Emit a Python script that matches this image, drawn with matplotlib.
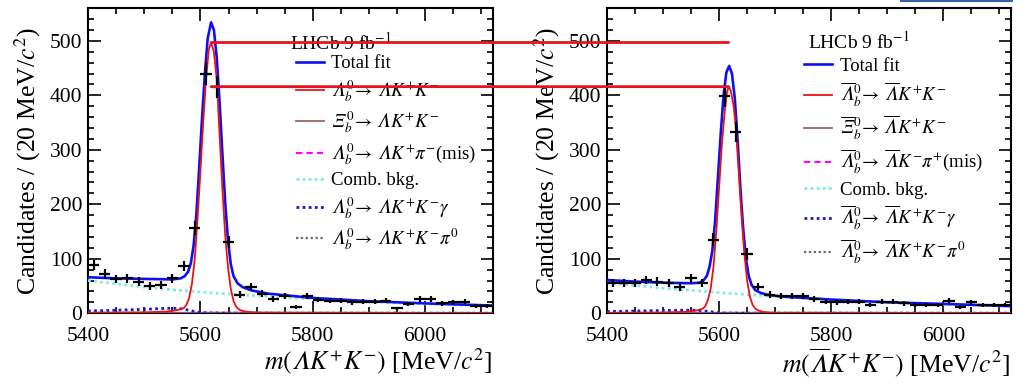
import numpy as np
import matplotlib.pyplot as plt
from matplotlib.patches import ConnectionPatch
from matplotlib.lines import Line2D
from matplotlib.ticker import MultipleLocator

plt.rcParams['font.family'] = 'serif'
plt.rcParams['font.serif'] = ['Liberation Serif', 'DejaVu Serif']
plt.rcParams['mathtext.fontset'] = 'stix'

# ---- data (bin centres, 20 MeV bins) ----
bin_centres = [5410, 5430, 5450, 5470, 5490, 5510, 5530, 5550, 5570, 5590,
               5610, 5630, 5650, 5670, 5690, 5710, 5730, 5750, 5770, 5790,
               5810, 5830, 5850, 5870, 5890, 5910, 5930, 5950, 5970, 5990,
               6010, 6030, 6050, 6070, 6090, 6110]
counts_lb = [89, 72, 63, 64, 58, 50, 52, 64, 86, 156,
             440, 416, 131, 34, 49, 36, 26, 31, 12, 31,
             25, 23, 23, 20, 21, 21, 23, 9, 17, 26,
             26, 18, 20, 21, 13, 13]
counts_lbbar = [55, 56, 56, 61, 58, 55, 48, 64, 55, 135,
                399, 333, 109, 49, 34, 32, 32, 31, 26, 21,
                20, 21, 21, 15, 21, 21, 18, 15, 15, 15,
                23, 11, 20, 15, 15, 15]

# ---- fit curves ----
tot_mass_lb = [5400, 5450, 5500, 5550, 5565, 5572, 5578, 5583, 5588, 5593,
               5598, 5603, 5608, 5613, 5619, 5624, 5629, 5634, 5639, 5644,
               5649, 5654, 5659, 5666, 5675, 5690, 5720, 5800, 5900, 6000, 6120]
tot_lb = [66, 64, 63, 62, 64, 68, 76, 92, 125, 185,
          270, 360, 440, 505, 534, 520, 470, 390, 295, 205,
          135, 90, 68, 55, 48, 42, 36, 28, 22, 18, 14]
sig_mass_lb = [5400, 5500, 5540, 5560, 5570, 5575, 5580, 5585, 5590, 5595,
               5600, 5605, 5610, 5615, 5619, 5624, 5629, 5634, 5639, 5644,
               5649, 5654, 5659, 5664, 5670, 5680, 5700, 5800, 6120]
sig_lb = [0.5, 1.5, 3, 6, 9, 15, 28, 55, 100, 175,
          260, 350, 430, 485, 497, 480, 430, 330, 230, 145,
          85, 45, 22, 11, 6, 3, 1, 0.3, 0]

tot_mass_lbbar = [5400, 5450, 5500, 5550, 5565, 5572, 5578, 5583, 5588, 5593,
                  5598, 5603, 5608, 5613, 5618, 5623, 5628, 5633, 5638, 5643,
                  5648, 5653, 5658, 5665, 5675, 5690, 5720, 5800, 5900, 6000, 6120]
tot_lbbar = [61, 58, 56, 55, 56, 60, 68, 85, 115, 170,
             250, 330, 400, 442, 454, 440, 395, 320, 230, 155,
             100, 68, 52, 42, 37, 33, 30, 25, 20, 17, 13]
sig_mass_lbbar = [5400, 5500, 5540, 5560, 5570, 5575, 5580, 5585, 5590, 5595,
                  5600, 5605, 5610, 5614, 5617, 5621, 5626, 5630, 5635, 5640,
                  5645, 5650, 5655, 5660, 5665, 5670, 5680, 5700, 5800, 6120]
sig_lbbar = [0.4, 1.2, 2.5, 5, 8, 12, 24, 45, 85, 150,
             230, 310, 370, 405, 416, 408, 380, 340, 260, 180,
             110, 60, 30, 15, 8, 5, 2, 0.5, 0, 0]

bkg_mass = [5400, 5450, 5500, 5550, 5600, 5650, 5700, 5750, 5800, 5850,
            5900, 5950, 6000, 6050, 6120]
comb_lb = [60, 54, 48, 43, 39, 35, 32, 29, 26, 23.5, 21, 19, 17, 15.5, 14]
comb_lbbar = [56, 51, 46, 42, 38, 34, 31, 28, 25, 22.5, 20, 18, 16.5, 15, 13]
xib_lb = [0.6, 0.6, 0.6, 0.6, 0.7, 0.8, 0.9, 1.0, 1.0, 0.9, 0.8, 0.7, 0.6, 0.6, 0.5]
xib_lbbar = [0.5, 0.5, 0.5, 0.5, 0.6, 0.7, 0.8, 0.9, 0.9, 0.8, 0.7, 0.6, 0.5, 0.5, 0.4]
mis_lb = [0.3, 0.3, 0.3, 0.3, 0.4, 0.5, 0.5, 0.4, 0.3, 0.3, 0.3, 0.2, 0.2, 0.2, 0.2]
mis_lbbar = [0.3, 0.3, 0.3, 0.3, 0.4, 0.5, 0.5, 0.4, 0.3, 0.3, 0.3, 0.2, 0.2, 0.2, 0.2]

gam_mass = [5400, 5450, 5500, 5540, 5560, 5575, 5590, 5600, 5650, 6120]
gam_lb = [4, 5.5, 7, 9, 9, 6.5, 3, 1, 0, 0]
gam_lbbar = [3, 4, 5, 5.5, 5.5, 4, 2, 0.5, 0, 0]
pi0_mass = [5400, 5450, 5500, 5550, 5600, 6120]
pi0_lb = [1.0, 0.8, 0.5, 0.2, 0, 0]
pi0_lbbar = [0.8, 0.6, 0.4, 0.2, 0, 0]

# italic capital Greek (mathematical italic code points)
L = "\U0001D6EC"
X = "\U0001D6EF"
labels_lb = ["Total fit",
             rf"${L}_b^0\!\rightarrow\,{L} K^{{+}}K^{{-}}$",
             rf"${X}_b^0\!\rightarrow\,{L} K^{{+}}K^{{-}}$",
             rf"${L}_b^0\!\rightarrow\,{L} K^{{+}}\pi^{{-}}$(mis)",
             "Comb. bkg.",
             rf"${L}_b^0\!\rightarrow\,{L} K^{{+}}K^{{-}}\gamma$",
             rf"${L}_b^0\!\rightarrow\,{L} K^{{+}}K^{{-}}\pi^{{0}}$"]
labels_lbbar = ["Total fit",
                rf"$\overline{{{L}}}_b^0\!\rightarrow\,\overline{{{L}}} K^{{+}}K^{{-}}$",
                rf"$\overline{{{X}}}_b^0\!\rightarrow\,\overline{{{L}}} K^{{+}}K^{{-}}$",
                rf"$\overline{{{L}}}_b^0\!\rightarrow\,\overline{{{L}}} K^{{-}}\pi^{{+}}$(mis)",
                "Comb. bkg.",
                rf"$\overline{{{L}}}_b^0\!\rightarrow\,\overline{{{L}}} K^{{+}}K^{{-}}\gamma$",
                rf"$\overline{{{L}}}_b^0\!\rightarrow\,\overline{{{L}}} K^{{+}}K^{{-}}\pi^{{0}}$"]
xlabel_lb = rf"$m({L} K^{{+}}K^{{-}})$ [MeV/$c^2$]"
xlabel_lbbar = rf"$m(\overline{{{L}}} K^{{+}}K^{{-}})$ [MeV/$c^2$]"
lumi_text = r"LHCb 9 fb$^{-1}$"


def draw_panel(ax, counts, tot_m, tot, sig_m, sig, comb, xib, mis, gam, pi0,
               labels, xlabel, leg_x, leg_y, lumi_x, lumi_y, lspace):
    c = np.array(counts, dtype=float)
    ax.errorbar(bin_centres, c, xerr=10, yerr=np.sqrt(c), fmt='none',
                ecolor='black', elinewidth=1.6, capsize=0, zorder=5)
    h_tot, = ax.plot(tot_m, tot, color='#1010ee', lw=1.9, zorder=4)
    h_sig, = ax.plot(sig_m, sig, color='#ee1111', lw=1.3, zorder=4)
    h_xib, = ax.plot(bkg_mass, xib, color='#996666', lw=1.3, zorder=3)
    h_mis, = ax.plot(bkg_mass, mis, color='#ff00ff', lw=1.5, ls=(0, (3, 2)), zorder=3)
    h_comb, = ax.plot(bkg_mass, comb, color='#80e8e8', lw=2.0, ls=(0, (1, 1.2)), zorder=3)
    h_gam, = ax.plot(gam_mass, gam, color='#1a1acc', lw=2.0, ls=(0, (1, 1.2)), zorder=3)
    h_pi0, = ax.plot(pi0_mass, pi0, color='#666677', lw=1.6, ls=(0, (1, 1.2)), zorder=3)

    ax.set_xlim(5400, 6120)
    ax.set_ylim(0, 560)
    ax.xaxis.set_major_locator(MultipleLocator(200))
    ax.xaxis.set_minor_locator(MultipleLocator(50))
    ax.yaxis.set_major_locator(MultipleLocator(100))
    ax.yaxis.set_minor_locator(MultipleLocator(20))
    ax.tick_params(which='both', direction='in', top=True, right=True,
                   width=1.2, labelsize=15.5)
    ax.tick_params(which='major', length=9)
    ax.tick_params(which='minor', length=4.5)
    ax.tick_params(axis='x', which='major', pad=10)
    ax.tick_params(axis='y', which='major', pad=4)
    for sp in ax.spines.values():
        sp.set_linewidth(1.5)

    ax.set_ylabel(r"Candidates / (20 MeV/$c^2$)", fontsize=18.5, labelpad=5)
    ax.set_xlabel(xlabel, fontsize=18.5, loc='right', labelpad=0)

    ax.text(lumi_x, lumi_y, lumi_text, transform=ax.transAxes,
            fontsize=14, ha='left', va='center')
    ax.legend([h_tot, h_sig, h_xib, h_mis, h_comb, h_gam, h_pi0], labels,
              loc='upper left', bbox_to_anchor=(leg_x, leg_y),
              frameon=False, fontsize=13.5, handlelength=1.5,
              handletextpad=0.4, labelspacing=lspace, borderaxespad=0)


fig = plt.figure(figsize=(10.27, 3.91), dpi=100)
ax1 = fig.add_axes([0.0857, 0.199, 0.394, 0.780])
ax2 = fig.add_axes([0.591, 0.199, 0.393, 0.780])

draw_panel(ax1, counts_lb, tot_mass_lb, tot_lb, sig_mass_lb, sig_lb,
           comb_lb, xib_lb, mis_lb, gam_lb, pi0_lb, labels_lb, xlabel_lb,
           0.495, 0.870, 0.499, 0.886, 0.29)
draw_panel(ax2, counts_lbbar, tot_mass_lbbar, tot_lbbar, sig_mass_lbbar, sig_lbbar,
           comb_lbbar, xib_lbbar, mis_lbbar, gam_lbbar, pi0_lbbar, labels_lbbar,
           xlabel_lbbar, 0.47, 0.862, 0.4975, 0.892, 0.30)

# red guide lines joining the signal peak heights of both panels
pk_l = sig_mass_lb[int(np.argmax(sig_lb))]
pk_r = sig_mass_lbbar[int(np.argmax(sig_lbbar))]
for h in (max(sig_lb), max(sig_lbbar)):
    con = ConnectionPatch(xyA=(pk_l, h), coordsA=ax1.transData,
                          xyB=(pk_r, h), coordsB=ax2.transData,
                          color='#e8141c', lw=2.0, zorder=10)
    fig.add_artist(con)

# fragment of a frame at the top right
fig.add_artist(Line2D([0.877, 0.985], [0.997, 0.997], transform=fig.transFigure,
                      color='#3b5ea8', lw=1.5))

plt.savefig("out.png", dpi=100)
plt.close(fig)
